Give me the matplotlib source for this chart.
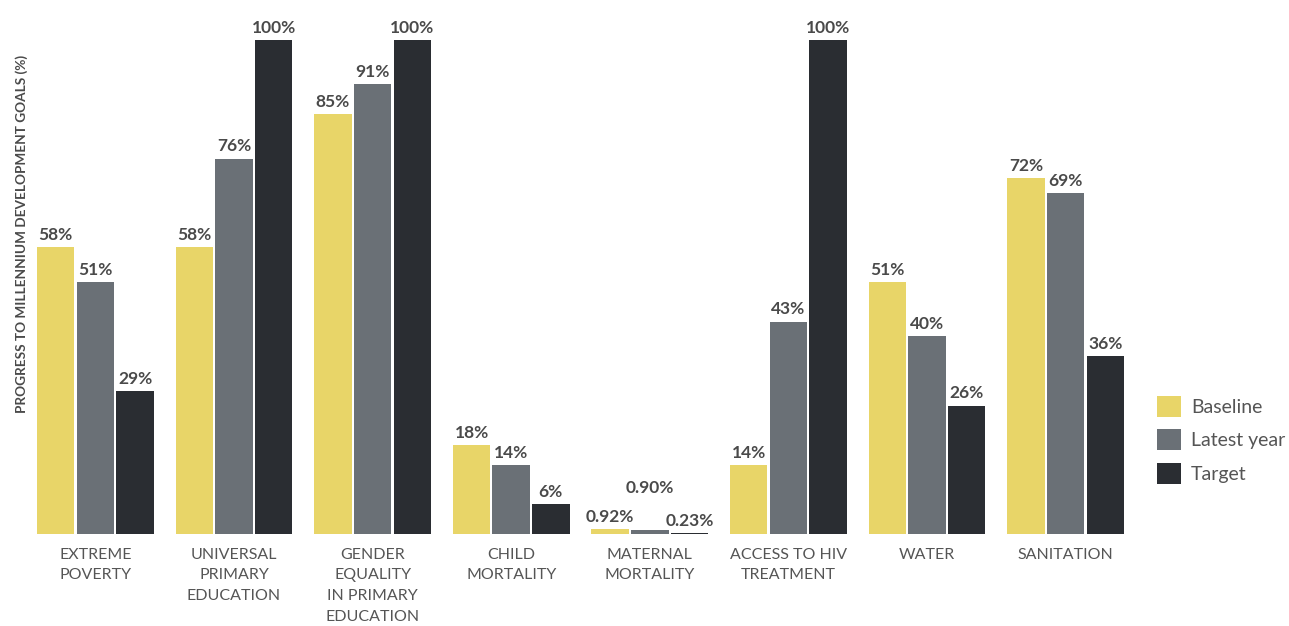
import matplotlib
matplotlib.use("Agg")
import matplotlib.pyplot as plt
import numpy as np
from matplotlib.patches import Patch

categories = ["EXTREME\nPOVERTY", "UNIVERSAL\nPRIMARY\nEDUCATION",
              "GENDER\nEQUALITY\nIN PRIMARY\nEDUCATION", "CHILD\nMORTALITY",
              "MATERNAL\nMORTALITY", "ACCESS TO HIV\nTREATMENT", "WATER", "SANITATION"]
baseline = [58, 58, 85, 18, 0.92, 14, 51, 72]
latest = [51, 76, 91, 14, 0.90, 43, 40, 69]
target = [29, 100, 100, 6, 0.23, 100, 26, 36]
series_names = ["Baseline", "Latest year", "Target"]
colors = ["#E8D568", "#6A7076", "#2A2D32"]

LABEL_C = "#4A4A4A"
TEXT_C = "#555555"
plt.rcParams["font.family"] = ["Lato", "DejaVu Sans"]


def fmt(v):
    return f"{v:.2f}%" if v < 1 else f"{v:.0f}%"


fig = plt.figure(figsize=(12.89, 6.26), dpi=100)
ax = fig.add_axes([33 / 1289, (626 - 534) / 626, 1095 / 1289, 494 / 626])

x = np.arange(len(categories))
width = 0.27
step = 0.286
for i, (vals, name, c) in enumerate(zip([baseline, latest, target], series_names, colors)):
    pos = x + (i - 1) * step
    ax.bar(pos, vals, width=width, color=c, label=name)
    for p, v in zip(pos, vals):
        dy = 3
        # the small maternal-mortality labels would collide, raise the middle one
        if v < 1 and i == 1:
            dy = 24
        ax.annotate(fmt(v), (p, v), xytext=(0, dy), textcoords="offset points",
                    ha="center", va="bottom", fontsize=12.5, fontweight="bold",
                    color=LABEL_C, annotation_clip=False)

ax.set_xlim(-0.45, 7.45)
ax.set_ylim(0, 100)
ax.set_xticks(x)
ax.set_xticklabels(categories, fontsize=11.5, color=TEXT_C, linespacing=1.6, va="top")
ax.tick_params(axis="x", length=0, pad=10)
ax.set_yticks([])
for s in ax.spines.values():
    s.set_visible(False)

fig.text(22 / 1289, 1 - 234 / 626, "PROGRESS TO MILLENNIUM DEVELOPMENT GOALS (%)",
         rotation=90, ha="center", va="center", fontsize=9.8, fontweight="bold",
         color=LABEL_C)

handles = [Patch(facecolor=c, edgecolor="none") for c in colors]
fig.legend(handles, series_names, loc="upper left",
           bbox_to_anchor=(1157 / 1289, 1 - 396 / 626), frameon=False,
           fontsize=14, handlelength=1.25, handleheight=1.3, handletextpad=0.5,
           labelspacing=0.62, borderpad=0, borderaxespad=0, labelcolor=TEXT_C)

fig.savefig("out.png", dpi=100)
